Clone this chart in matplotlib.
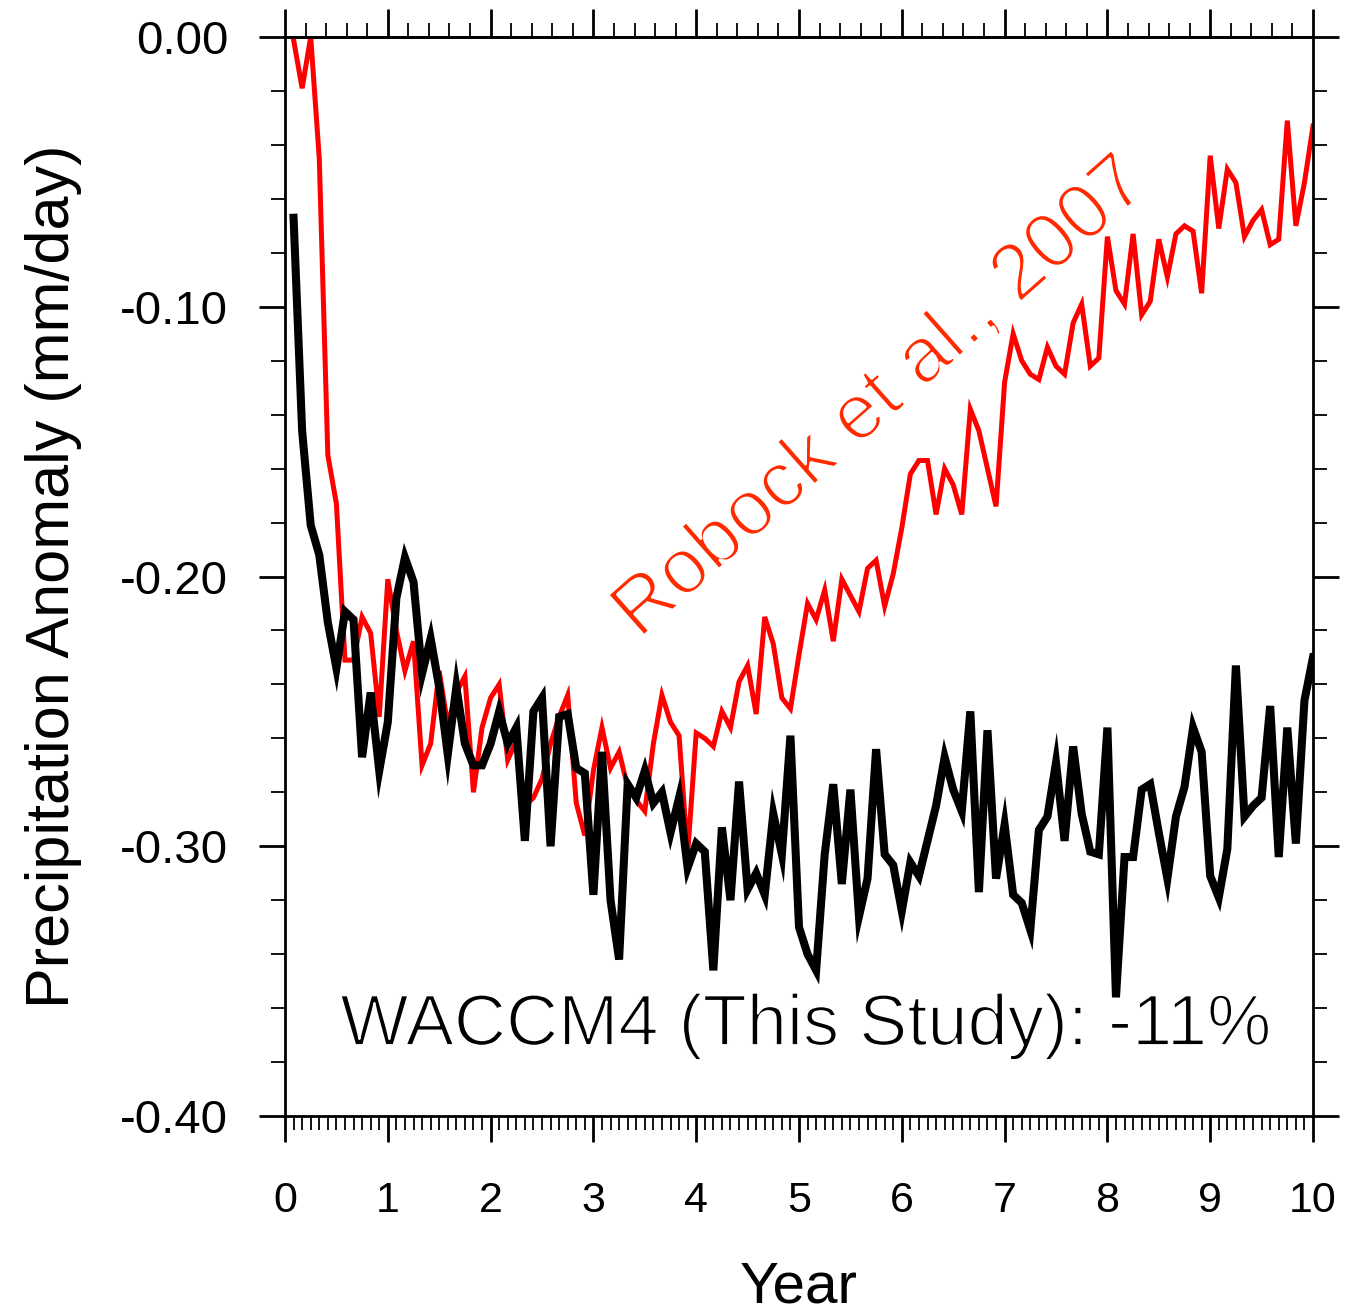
import numpy as np
import matplotlib
matplotlib.use("Agg")
import matplotlib.pyplot as plt
import matplotlib.patheffects as pe
from matplotlib.ticker import MultipleLocator, FormatStrFormatter

# ---- data (monthly, years 1/12 .. 10) ----
months = np.arange(1, 121)
years = months / 12.0

robock = [
    -0.001, -0.019, 0.000, -0.045, -0.155, -0.173, -0.231, -0.231, -0.215, -0.221,
    -0.252, -0.201, -0.220, -0.235, -0.224, -0.270, -0.262, -0.235, -0.255, -0.243,
    -0.237, -0.280, -0.256, -0.245, -0.240, -0.268, -0.261, -0.285, -0.282, -0.275,
    -0.262, -0.252, -0.244, -0.284, -0.296, -0.272, -0.256, -0.271, -0.265, -0.278,
    -0.283, -0.287, -0.262, -0.244, -0.254, -0.259, -0.303, -0.258, -0.260, -0.263,
    -0.250, -0.256, -0.239, -0.233, -0.251, -0.215, -0.225, -0.245, -0.249, -0.229,
    -0.210, -0.216, -0.205, -0.224, -0.201, -0.207, -0.213, -0.197, -0.194, -0.211,
    -0.199, -0.182, -0.162, -0.157, -0.157, -0.177, -0.160, -0.166, -0.177, -0.138,
    -0.146, -0.160, -0.174, -0.128, -0.110, -0.120, -0.125, -0.127, -0.115, -0.122,
    -0.125, -0.106, -0.099, -0.122, -0.119, -0.074, -0.094, -0.099, -0.073, -0.103,
    -0.098, -0.075, -0.089, -0.073, -0.070, -0.072, -0.095, -0.044, -0.071, -0.049,
    -0.054, -0.074, -0.068, -0.064, -0.077, -0.075, -0.031, -0.070, -0.054, -0.033,
]

waccm = [
    -0.067, -0.146, -0.181, -0.192, -0.217, -0.234, -0.213, -0.216, -0.267, -0.243,
    -0.272, -0.254, -0.208, -0.193, -0.202, -0.236, -0.223, -0.241, -0.266, -0.241,
    -0.262, -0.270, -0.270, -0.262, -0.250, -0.262, -0.256, -0.298, -0.250, -0.245,
    -0.300, -0.252, -0.251, -0.271, -0.273, -0.318, -0.265, -0.320, -0.342, -0.277,
    -0.282, -0.272, -0.284, -0.280, -0.295, -0.282, -0.308, -0.299, -0.302, -0.346,
    -0.293, -0.320, -0.276, -0.316, -0.310, -0.318, -0.288, -0.303, -0.259, -0.330,
    -0.340, -0.346, -0.303, -0.277, -0.314, -0.279, -0.326, -0.312, -0.264, -0.303,
    -0.307, -0.324, -0.306, -0.311, -0.298, -0.285, -0.267, -0.279, -0.287, -0.250,
    -0.317, -0.257, -0.312, -0.292, -0.318, -0.321, -0.331, -0.294, -0.289, -0.269,
    -0.298, -0.263, -0.288, -0.302, -0.303, -0.256, -0.356, -0.304, -0.304, -0.279,
    -0.277, -0.295, -0.312, -0.289, -0.278, -0.256, -0.265, -0.311, -0.319, -0.301,
    -0.233, -0.289, -0.285, -0.282, -0.248, -0.304, -0.256, -0.299, -0.246, -0.230,
]

y_ticks = [0.0, -0.1, -0.2, -0.3, -0.4]
x_ticks = list(range(0, 11))

FONT = ["Liberation Sans", "DejaVu Sans"]
plt.rcParams["font.family"] = FONT

fig = plt.figure(figsize=(13.45, 13.16), dpi=100)
ax = fig.add_axes([285 / 1345, 1 - 1116 / 1316, (1313 - 285) / 1345, (1116 - 37) / 1316])

ax.plot(years, robock, color="#ff0000", lw=3.6, solid_joinstyle="miter", zorder=2)
ax.plot(years, waccm, color="black", lw=5.8, solid_joinstyle="miter", zorder=3)

ax.set_xlim(0, 10)
ax.set_ylim(-0.4, 0.0)

for s in ax.spines.values():
    s.set_linewidth(2.0)

# bottom / left / right ticks
ax.xaxis.set_major_locator(MultipleLocator(1))
ax.xaxis.set_minor_locator(MultipleLocator(1 / 12))
ax.yaxis.set_major_locator(MultipleLocator(0.1))
ax.yaxis.set_minor_locator(MultipleLocator(0.02))
ax.yaxis.set_major_formatter(FormatStrFormatter("%.2f"))
ax.set_xticks(x_ticks)
ax.set_yticks(y_ticks)
ax.tick_params(axis="both", which="major", direction="out", length=19, width=2)
ax.tick_params(axis="both", which="minor", direction="out", length=10, width=1.3)
ax.tick_params(axis="y", which="both", left=True, right=True)
ax.tick_params(axis="y", which="major", labelsize=34, pad=22)
ax.tick_params(axis="x", which="both", bottom=True, top=False)
ax.tick_params(axis="x", which="major", labelsize=31, pad=28)

# top axis with its own minor ticks
top = ax.secondary_xaxis("top")
top.xaxis.set_major_locator(MultipleLocator(1))
top.xaxis.set_minor_locator(MultipleLocator(0.2))
top.tick_params(which="major", direction="out", length=20, width=2, labeltop=False)
top.tick_params(which="minor", direction="out", length=10, width=1.3)
top.spines["top"].set_linewidth(2.0)

ax.set_ylabel("Precipitation Anomaly (mm/day)", fontsize=44, labelpad=27)
ax.set_xlabel("Year", fontsize=42, labelpad=28)

# thin (light) looking annotation text: erode glyphs with a white outline
ax.text(5.80, -0.1340, "Robock et al., 2007", color="#ff2a00", fontsize=57,
        rotation=41.5, rotation_mode="anchor",
        ha="center", va="center", transform=ax.transData, zorder=4,
        path_effects=[pe.Stroke(linewidth=2.0, foreground="white")])
ax.text(5.07, -0.3737, "WACCM4 (This Study): -11%", color="black", fontsize=52,
        ha="center", va="baseline", zorder=4,
        path_effects=[pe.Stroke(linewidth=1.4, foreground="white")])

fig.savefig("out.png", dpi=100)
